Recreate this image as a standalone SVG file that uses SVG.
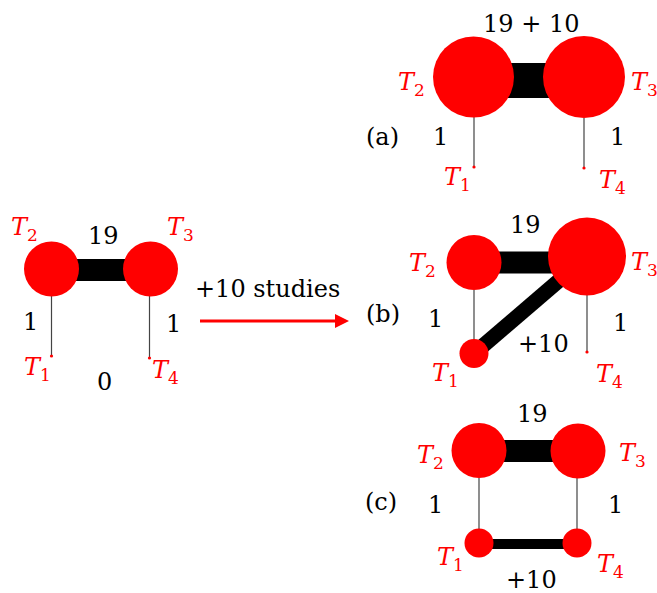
<svg xmlns="http://www.w3.org/2000/svg" width="657" height="593" viewBox="0 0 657 593">
<style>
.n{fill:#ff0000}
.bar{stroke:#000;stroke-linecap:butt}
.thin{stroke:#444;stroke-width:1.2}
.num{font-family:"DejaVu Serif",serif;font-size:24px;fill:#000}
.t{font-family:"DejaVu Serif",serif;font-style:italic;font-size:24px;fill:#ff0000}
.sub{font-style:normal;font-size:17px}
</style>
<rect width="657" height="593" fill="#fff"/>
<g id="connectors">
  <line class="bar" x1="51.5" y1="270" x2="150.5" y2="270" stroke-width="22"/>
  <line class="thin" x1="51.5" y1="296" x2="51.5" y2="356"/>
  <line class="thin" x1="149.5" y1="296" x2="149.5" y2="358"/>
  <line x1="200" y1="321" x2="337" y2="321" stroke="#ff0000" stroke-width="3"/>
  <polygon points="335,314 349,321 335,328" fill="#ff0000"/>
  <line class="bar" x1="473.5" y1="80.5" x2="584" y2="80.5" stroke-width="35"/>
  <line class="thin" x1="474" y1="117" x2="474" y2="167"/>
  <line class="thin" x1="584" y1="118" x2="584" y2="168"/>
  <line class="bar" x1="474" y1="262.5" x2="587" y2="262.5" stroke-width="22"/>
  <line class="bar" x1="474" y1="353.5" x2="587" y2="256.5" stroke-width="15"/>
  <line class="thin" x1="474" y1="290" x2="474" y2="340"/>
  <line class="thin" x1="587" y1="295" x2="587" y2="352"/>
  <line class="bar" x1="479" y1="451" x2="578" y2="451" stroke-width="22"/>
  <line class="bar" x1="479" y1="544" x2="577" y2="544" stroke-width="10"/>
  <line class="thin" x1="479" y1="478" x2="479" y2="530"/>
  <line class="thin" x1="577" y1="478" x2="577" y2="530"/>
</g>
<g id="left">
  <g id="L-T2"><circle class="n" cx="51.5" cy="269" r="27.5"/><text class="t" x="11" y="235">T<tspan class="sub" dy="6">2</tspan></text></g>
  <g id="L-T3"><circle class="n" cx="150.5" cy="269" r="27.5"/><text class="t" x="167" y="235">T<tspan class="sub" dy="6">3</tspan></text></g>
  <g id="L-T1"><circle class="n" cx="51.5" cy="356" r="1.6"/><text class="t" x="24" y="375">T<tspan class="sub" dy="6">1</tspan></text></g>
  <g id="L-T4"><circle class="n" cx="149.5" cy="358" r="1.6"/><text class="t" x="152" y="378">T<tspan class="sub" dy="6">4</tspan></text></g>
  <text class="num" x="88" y="244">19</text>
  <text class="num" x="23" y="330">1</text>
  <text class="num" x="166" y="332">1</text>
  <text class="num" x="97" y="390">0</text>
  <text class="num" x="195" y="297">+10 studies</text>
</g>
<g id="a">
  <g id="A-T2"><circle class="n" cx="473.5" cy="77" r="40.5"/><text class="t" x="398" y="90">T<tspan class="sub" dy="6">2</tspan></text></g>
  <g id="A-T3"><circle class="n" cx="584" cy="77" r="41"/><text class="t" x="631" y="90">T<tspan class="sub" dy="6">3</tspan></text></g>
  <g id="A-T1"><circle class="n" cx="474" cy="167" r="1.6"/><text class="t" x="444" y="185">T<tspan class="sub" dy="6">1</tspan></text></g>
  <g id="A-T4"><circle class="n" cx="584" cy="168" r="1.6"/><text class="t" x="599" y="188">T<tspan class="sub" dy="6">4</tspan></text></g>
  <text class="num" x="483" y="32">19 + 10</text>
  <text class="num" x="366" y="145">(a)</text>
  <text class="num" x="433" y="145">1</text>
  <text class="num" x="610" y="145">1</text>
</g>
<g id="b">
  <g id="B-T2"><circle class="n" cx="474" cy="262.5" r="27.5"/><text class="t" x="409" y="271">T<tspan class="sub" dy="6">2</tspan></text></g>
  <g id="B-T3"><circle class="n" cx="587" cy="256.5" r="39"/><text class="t" x="631" y="270">T<tspan class="sub" dy="6">3</tspan></text></g>
  <g id="B-T1"><circle class="n" cx="474" cy="353.5" r="14.5"/><text class="t" x="432" y="381">T<tspan class="sub" dy="6">1</tspan></text></g>
  <g id="B-T4"><circle class="n" cx="587" cy="352" r="1.6"/><text class="t" x="596" y="382">T<tspan class="sub" dy="6">4</tspan></text></g>
  <text class="num" x="510" y="233">19</text>
  <text class="num" x="366" y="322">(b)</text>
  <text class="num" x="428" y="327">1</text>
  <text class="num" x="613" y="331">1</text>
  <text class="num" x="518" y="352">+10</text>
</g>
<g id="c">
  <g id="C-T2"><circle class="n" cx="479" cy="450.5" r="27.5"/><text class="t" x="417" y="463">T<tspan class="sub" dy="6">2</tspan></text></g>
  <g id="C-T3"><circle class="n" cx="578" cy="451" r="27.5"/><text class="t" x="619" y="461">T<tspan class="sub" dy="6">3</tspan></text></g>
  <g id="C-T1"><circle class="n" cx="479" cy="543" r="14.5"/><text class="t" x="437" y="565">T<tspan class="sub" dy="6">1</tspan></text></g>
  <g id="C-T4"><circle class="n" cx="577" cy="543" r="14.5"/><text class="t" x="597" y="572">T<tspan class="sub" dy="6">4</tspan></text></g>
  <text class="num" x="517" y="422">19</text>
  <text class="num" x="365" y="510">(c)</text>
  <text class="num" x="428" y="513">1</text>
  <text class="num" x="608" y="513">1</text>
  <text class="num" x="506" y="588">+10</text>
</g>
</svg>
